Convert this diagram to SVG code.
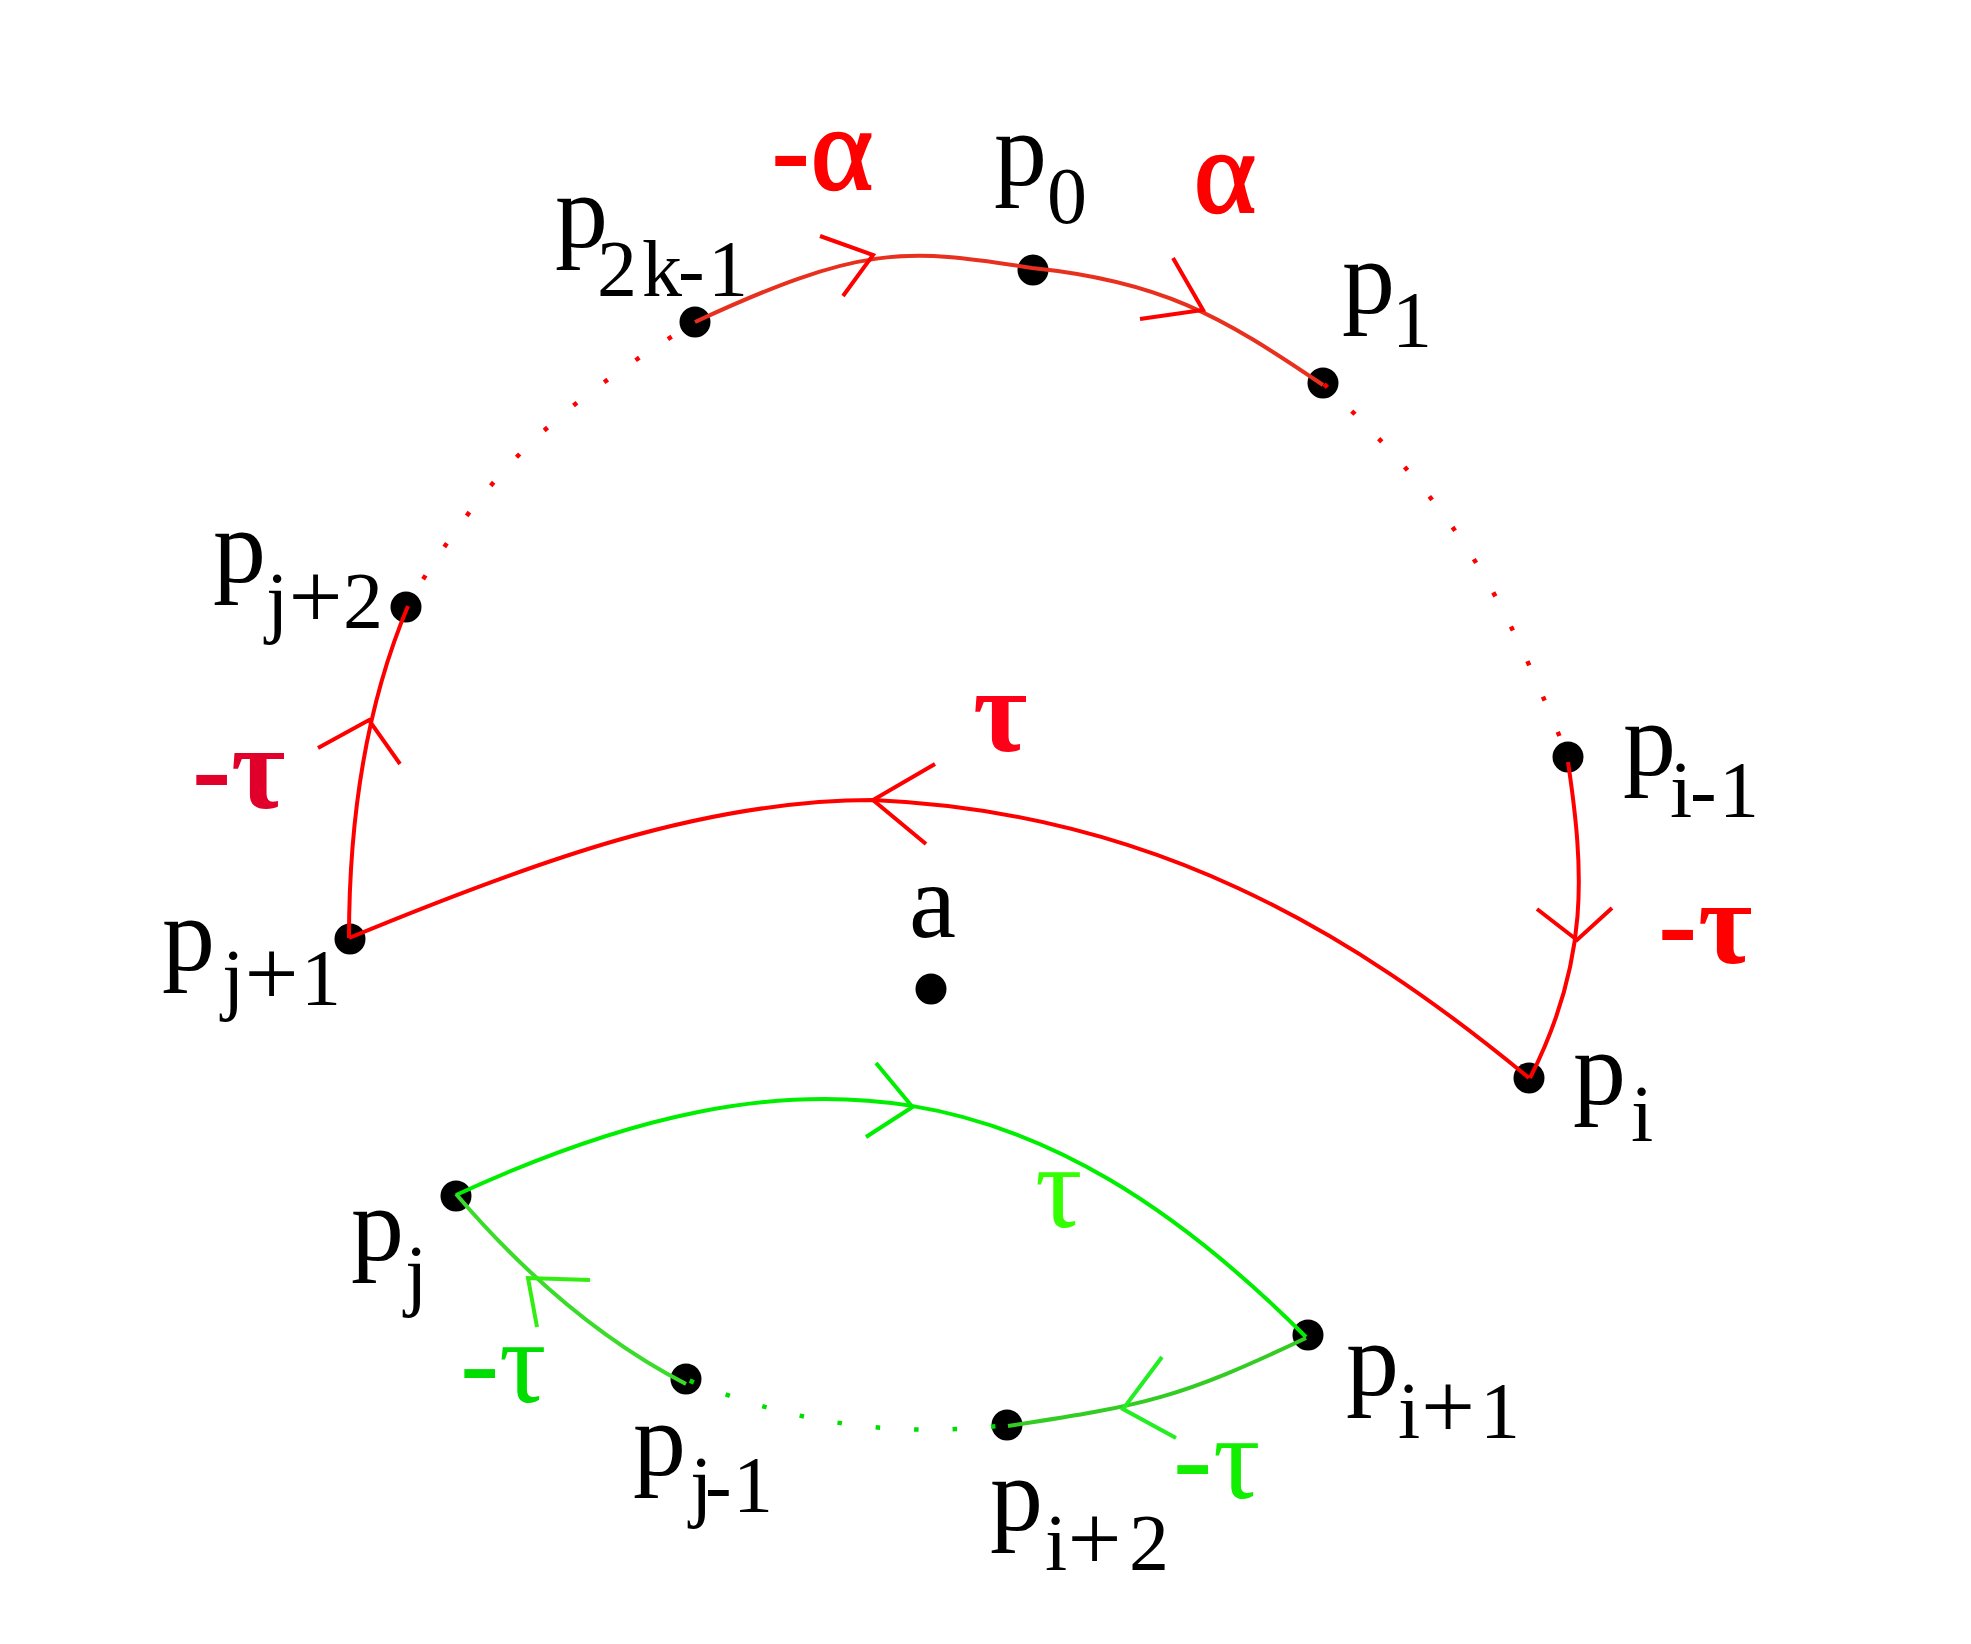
<svg xmlns="http://www.w3.org/2000/svg" width="1971" height="1644" viewBox="0 0 1971 1644">
<style>
.bg{fill:#ffffff}
.dot{fill:#000000}
.lbl{font-family:"Liberation Serif","Times New Roman",serif;font-size:106px;fill:#000000}
.sub{font-size:80px}
.plus{font-size:96px}
.gk{font-family:"Liberation Serif","Times New Roman",serif;font-size:118px}
.gr{font-weight:bold}
.al{stroke:#FF0000;stroke-width:2.5}
.ln{fill:none;stroke-width:4;stroke-linejoin:miter;stroke-linecap:butt}
.red{stroke:#FF0000}
.red2{stroke:#E8301E}
.grn{stroke:#00EE00}
.grn2{stroke:#3ADB2A}
.grn3{stroke:#33CC22}
.dots{fill:none;stroke-width:4.5;stroke-dasharray:4.5 34}
</style>
<rect class="bg" x="0" y="0" width="1971" height="1644"/>

<g id="nodes">
  <g id="p0"><circle class="dot" cx="1033" cy="270" r="15.5"/><text class="lbl" x="994" y="185">p<tspan class="sub" x="1047" y="223">0</tspan></text></g>
  <g id="p2k-1"><circle class="dot" cx="695" cy="322" r="15.5"/><text class="lbl" x="555" y="247">p<tspan class="sub" x="597 642 678 708" y="296">2k-1</tspan></text></g>
  <g id="p1"><circle class="dot" cx="1323" cy="383" r="15.5"/><text class="lbl" x="1342" y="313">p<tspan class="sub" x="1392" y="347">1</tspan></text></g>
  <g id="pj2"><circle class="dot" cx="406" cy="607" r="15.5"/><text class="lbl" x="213" y="582">p<tspan class="sub" x="266" y="628">j</tspan><tspan class="plus" x="288.5">+</tspan><tspan class="sub" x="343">2</tspan></text></g>
  <g id="pi-1"><circle class="dot" cx="1568" cy="757" r="15.5"/><text class="lbl" x="1623" y="775">p<tspan class="sub" x="1670 1690 1719" y="817">i-1</tspan></text></g>
  <g id="pj1"><circle class="dot" cx="350" cy="939" r="15.5"/><text class="lbl" x="162" y="970">p<tspan class="sub" x="222" y="1005">j</tspan><tspan class="plus" x="244.5">+</tspan><tspan class="sub" x="301">1</tspan></text></g>
  <g id="a"><circle class="dot" cx="931" cy="989" r="15.5"/><text class="lbl" x="909" y="937">a</text></g>
  <g id="pi"><circle class="dot" cx="1529" cy="1078" r="15.5"/><text class="lbl" x="1573" y="1104">p<tspan class="sub" x="1631" y="1141">i</tspan></text></g>
  <g id="pj"><circle class="dot" cx="456" cy="1196" r="15.5"/><text class="lbl" x="351" y="1260">p<tspan class="sub" x="405" y="1301">j</tspan></text></g>
  <g id="pi1"><circle class="dot" cx="1308" cy="1335" r="15.5"/><text class="lbl" x="1346" y="1395">p<tspan class="sub" x="1398" y="1438">i</tspan><tspan class="plus" x="1421">+</tspan><tspan class="sub" x="1480">1</tspan></text></g>
  <g id="pj-1"><circle class="dot" cx="686" cy="1379" r="15.5"/><text class="lbl" x="633" y="1475">p<tspan class="sub" x="690 705 733" y="1512">j-1</tspan></text></g>
  <g id="pi2"><circle class="dot" cx="1007" cy="1425" r="15.5"/><text class="lbl" x="990" y="1530">p<tspan class="sub" x="1045" y="1570">i</tspan><tspan class="plus" x="1067.5">+</tspan><tspan class="sub" x="1129">2</tspan></text></g>
</g>

<g id="connectors">
  <!-- top red arc p2k-1 -> p0 -> p1 -->
  <path class="ln red2" d="M695,322 C859,246 903,247 1032,268 C1160,281 1220,315 1323,385"/>
  <polyline class="ln red" points="820,236 873,255 843,296"/>
  <polyline class="ln red" points="1173,258 1203,310 1140,319"/>
  <!-- dotted arcs -->
  <path class="dots red" stroke-dashoffset="11" d="M695,322 C555,409 492,464 406,607"/>
  <path class="dots red" stroke-dashoffset="-1.5" d="M1323,383 C1460,514 1497,582 1568,757"/>
  <path class="dots" stroke="#00DD00" stroke-dashoffset="-4" d="M686,1379 Q840,1445 1007,1425"/>
  <!-- p_{j+1} -> p_{j+2} -->
  <path class="ln red" d="M349,938 C349,840 360,720 408,606"/>
  <polyline class="ln red" points="318,748 369,720 400,764"/>
  <!-- big tau arc p_i -> p_{j+1} -->
  <path class="ln red" d="M349,938 C533,862 703,800 873,800 C1150,812 1350,930 1529,1078"/>
  <polyline class="ln red" points="935,764 873,800 926,844"/>
  <!-- p_{i-1} -> p_i -->
  <path class="ln red" d="M1568,762 C1584,870 1590,960 1530,1078"/>
  <polyline class="ln red" points="1537,909 1577,940 1612,908"/>
  <!-- green top arc p_j -> p_{i+1} -->
  <path class="ln grn" stroke-width="3.5" d="M456,1195 C801.8,1035.4 1038.2,1069 1306,1337"/>
  <polyline class="ln grn" stroke-width="3.5" points="876,1063 912.5,1107 866,1137"/>
  <!-- green p_{j-1} -> p_j -->
  <path class="ln grn2" stroke-width="3.5" d="M686,1384 C597,1338 521,1270 456,1194"/>
  <polyline class="ln" stroke="#33EE11" stroke-width="3.5" points="590,1280 528,1278 537,1327"/>
  <!-- green p_{i+1} -> p_{i+2} -->
  <path class="ln grn3" stroke-width="3.5" d="M1306,1338 C1180,1398 1147,1405 1008,1426"/>
  <polyline class="ln" stroke="#22EE22" stroke-width="3.5" points="1162,1357 1123,1409 1176,1438"/>
</g>

<g id="edge-labels">
  <text class="gk gr" fill="#FF0000" x="771" y="189">-</text>
  <text class="gk al" fill="#FF0000" x="811" y="189">α</text>
  <text class="gk al" fill="#FF0000" x="1194" y="212">α</text>
  <text class="gk gr" fill="#FF0019" x="973" y="751">τ</text>
  <text class="gk gr" fill="#E0002A" x="192 231" y="808">-τ</text>
  <text class="gk gr" fill="#FF0000" x="1658 1698" y="963">-τ</text>
  <text class="gk" fill="#33FF00" x="1035" y="1227">τ</text>
  <text class="gk" fill="#00DD00" x="460 499" y="1402">-τ</text>
  <text class="gk" fill="#11EE00" x="1173 1213" y="1498">-τ</text>
</g>
</svg>
